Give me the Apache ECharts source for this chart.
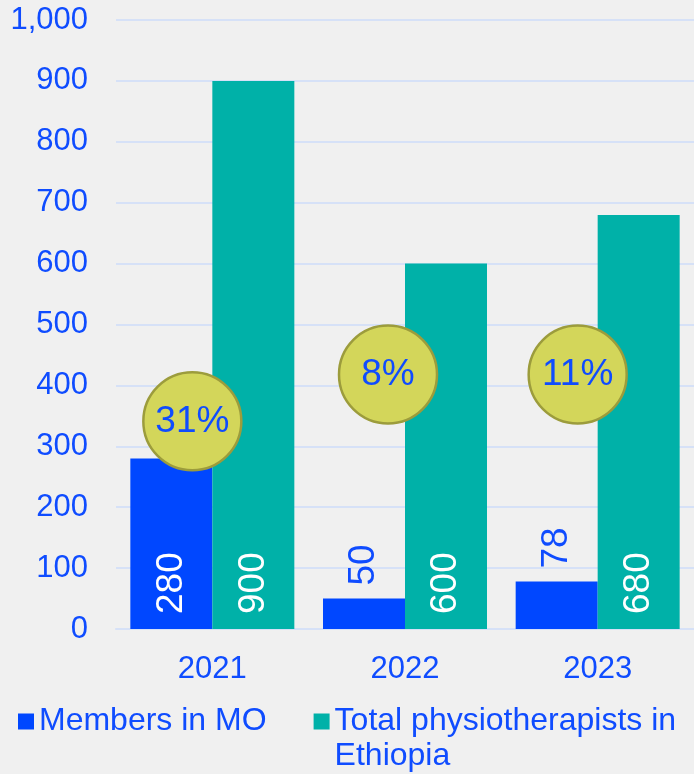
<!DOCTYPE html>
<html>
<head>
<meta charset="utf-8">
<script src="https://cdn.jsdelivr.net/npm/echarts@6/dist/echarts.min.js"></script>
<style>
html,body{margin:0;padding:0;background:#f0f0f0;}
#c{width:694px;height:774px;}
</style>
</head>
<body>
<div id="c"></div>
<script>
const categories = ['2021', '2022', '2023'];
const membersInMO = [280, 50, 78];
const totalPhysio = [900, 600, 680];
const sharePct = ['31%', '8%', '11%'];
const yTicks = [0, 100, 200, 300, 400, 500, 600, 700, 800, 900, 1000];
const seriesNames = ['Members in MO', 'Total physiotherapists in Ethiopia'];

const BLUE = '#0047ff';
const TEAL = '#00b1a8';
const TEXT = '#0f4cff';
const FONT = '"Liberation Sans", Arial, sans-serif';

// bubble placement (layout only)
const bubbleY = [341, 418, 418];
const bubbleDx = [-20, -17, -20];

const chart = echarts.init(document.getElementById('c'));
chart.setOption({
  backgroundColor: '#f0f0f0',
  animation: false,
  textStyle: { fontFamily: FONT },
  grid: { left: 116, right: 0, top: 20, bottom: 145, containLabel: false },
  legend: {
    left: 13, top: 664,
    itemWidth: 16, itemHeight: 16, itemGap: 47,
    icon: 'rect',
    textStyle: { color: TEXT, fontSize: 32, lineHeight: 35 },
    formatter: n => n === seriesNames[1] ? '\nTotal physiotherapists in\nEthiopia' : n,
    data: seriesNames
  },
  xAxis: {
    type: 'category', data: categories,
    axisLine: { lineStyle: { color: '#d6e1f7', width: 2 } },
    axisTick: { show: false },
    axisLabel: { color: TEXT, fontSize: 31, margin: 25 }
  },
  yAxis: {
    type: 'value', min: yTicks[0], max: yTicks[yTicks.length - 1], interval: 100,
    axisLine: { show: false }, axisTick: { show: false },
    splitLine: { lineStyle: { color: '#d6e1f7', width: 2 } },
    axisLabel: { color: TEXT, fontSize: 31, margin: 28,
      formatter: v => v.toLocaleString('en-US') }
  },
  series: [
    {
      name: seriesNames[0], type: 'bar', barWidth: 82, barGap: '0%',
      itemStyle: { color: BLUE },
      data: membersInMO.map((v, i) => ({
        value: v,
        label: v > 150
          ? { show: true, position: 'insideBottom', distance: 15, rotate: 90, align: 'left', verticalAlign: 'middle', color: '#fff', fontSize: 37 }
          : { show: true, position: 'top', distance: 13, rotate: 90, align: 'left', verticalAlign: 'middle', color: TEXT, fontSize: 37 }
      })),
      z: 2
    },
    {
      name: seriesNames[1], type: 'bar', barWidth: 82, barGap: '0%',
      itemStyle: { color: TEAL },
      label: { show: true, position: 'insideBottom', distance: 15, rotate: 90, align: 'left', verticalAlign: 'middle', color: '#fff', fontSize: 37 },
      data: totalPhysio,
      z: 2
    },
    {
      name: 'share', type: 'scatter', symbol: 'circle', symbolSize: 98,
      itemStyle: { color: '#d3d65a', borderColor: '#9c9c3c', borderWidth: 2.5, opacity: 1 },
      label: { show: true, position: 'inside', color: TEXT, fontSize: 37,
        formatter: p => sharePct[p.dataIndex] },
      data: categories.map((c, i) => ({ value: [c, bubbleY[i]], symbolOffset: [bubbleDx[i], 0] })),
      z: 5
    }
  ]
});
</script>
</body>
</html>
